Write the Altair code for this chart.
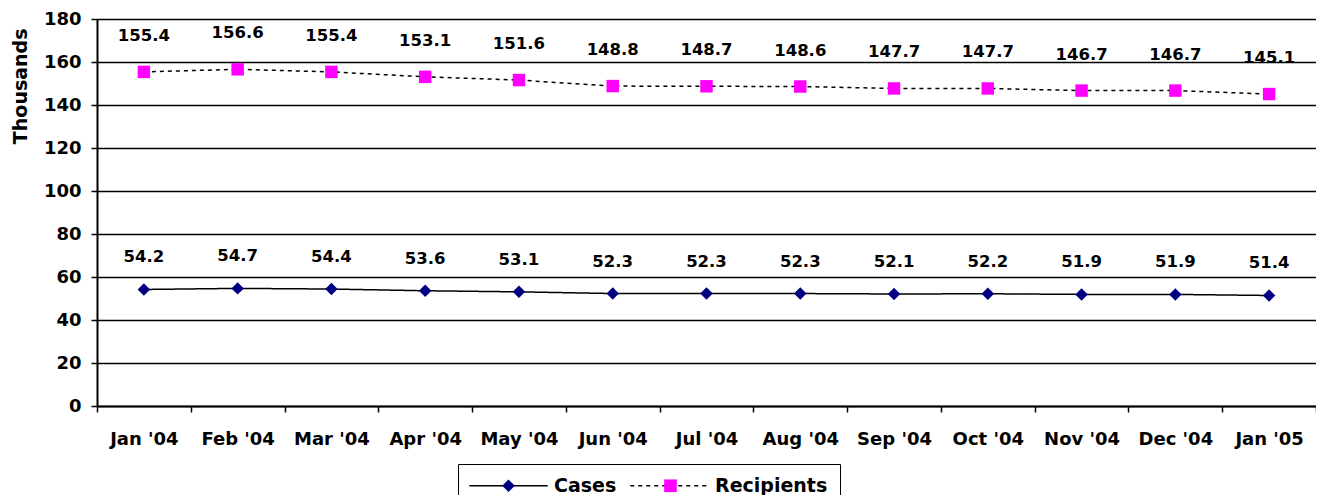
import altair as alt
import pandas as pd

months = ["Jan '04", "Feb '04", "Mar '04", "Apr '04", "May '04", "Jun '04", "Jul '04",
          "Aug '04", "Sep '04", "Oct '04", "Nov '04", "Dec '04", "Jan '05"]
cases = [54.2, 54.7, 54.4, 53.6, 53.1, 52.3, 52.3, 52.3, 52.1, 52.2, 51.9, 51.9, 51.4]
recipients = [155.4, 156.6, 155.4, 153.1, 151.6, 148.8, 148.7, 148.6, 147.7, 147.7, 146.7, 146.7, 145.1]
series_names = ["Cases", "Recipients"]
series_colors = ["#000080", "#FF00FF"]
series_shapes = ["diamond", "square"]
series_dash = [[1, 0], [4, 4]]
y_ticks = list(range(0, 181, 20))

rows = []
for m, c, r in zip(months, cases, recipients):
    rows.append({"month": m, "series": "Cases", "line_series": "Cases", "value": c})
    rows.append({"month": m, "series": "Recipients", "line_series": "Recipients", "value": r})
df = pd.DataFrame(rows)

FONT = "DejaVu Sans"

x_enc = alt.X(
    "month:N", sort=months,
    scale=alt.Scale(type="band", paddingInner=0, paddingOuter=0),
    axis=alt.Axis(title=None, labelAngle=0, tickBand="extent", grid=False,
                  domainColor="black", domainWidth=2, tickColor="black", tickWidth=1.5,
                  tickSize=6, labelPadding=18, labelFont=FONT, labelFontSize=18,
                  labelFontWeight="bold", labelColor="black"),
)
y_enc = alt.Y(
    "value:Q",
    scale=alt.Scale(domain=[0, 180], nice=False, zero=True),
    axis=alt.Axis(values=y_ticks, title="Thousands", grid=True, gridColor="black",
                  gridWidth=1.5, domainColor="black", domainWidth=2, tickColor="black",
                  tickWidth=1.5, tickSize=6, labelPadding=10, labelFont=FONT,
                  labelFontSize=18, labelFontWeight="bold", labelColor="black",
                  titleFont=FONT, titleFontSize=19, titleFontWeight="bold",
                  titleColor="black", titleAnchor="end", titleAlign="right",
                  titleX=-71, titleY=9, titleBaseline="alphabetic"),
)

common_legend = dict(
    title=None, orient="none", legendX=361, legendY=445, direction="horizontal",
    symbolSize=160, symbolOffset=29, labelOffset=36, padding=12,
    labelFont=FONT, labelFontSize=19, labelFontWeight="bold",
)

line_legend = alt.Legend(
    symbolType="M-6.2,0L6.2,0", symbolStrokeColor="black", symbolStrokeWidth=1.5,
    symbolFillColor="transparent", strokeColor="black", cornerRadius=0, zindex=0,
    labelColor="black", columnPadding=10, **common_legend,
)
point_legend = alt.Legend(symbolStrokeWidth=0, zindex=1, labelExpr="''",
                          columnPadding=78, **common_legend)

base = alt.Chart(df)

lines = base.mark_line(color="black", strokeWidth=1.5).encode(
    x=x_enc, y=y_enc,
    strokeDash=alt.StrokeDash("line_series:N",
                              scale=alt.Scale(range=series_dash),
                              legend=line_legend),
)

points = base.mark_point(filled=True, size=155, opacity=1).encode(
    x=x_enc, y=y_enc,
    color=alt.Color("series:N", scale=alt.Scale(domain=series_names, range=series_colors),
                    legend=point_legend),
    shape=alt.Shape("series:N", scale=alt.Scale(domain=series_names, range=series_shapes),
                    legend=point_legend),
)

label_cases = base.transform_filter(alt.datum.series == "Cases").mark_text(
    font=FONT, fontSize=16.5, fontWeight="bold", color="black", dy=-32
).encode(x=x_enc, y=y_enc, text=alt.Text("value:Q", format=".1f"))

label_recip = base.transform_filter(alt.datum.series == "Recipients").mark_text(
    font=FONT, fontSize=16.5, fontWeight="bold", color="black", dy=-36
).encode(x=x_enc, y=y_enc, text=alt.Text("value:Q", format=".1f"))

chart = alt.layer(lines, points, label_cases, label_recip).properties(
    width=1219, height=387,
    autosize=alt.AutoSizeParams(type="none"),
    padding={"left": 89, "top": 11, "right": 0, "bottom": 89},
).configure_view(stroke=None).configure(background="white")

chart.save("out.html", embed_options={"renderer": "svg", "actions": False})
